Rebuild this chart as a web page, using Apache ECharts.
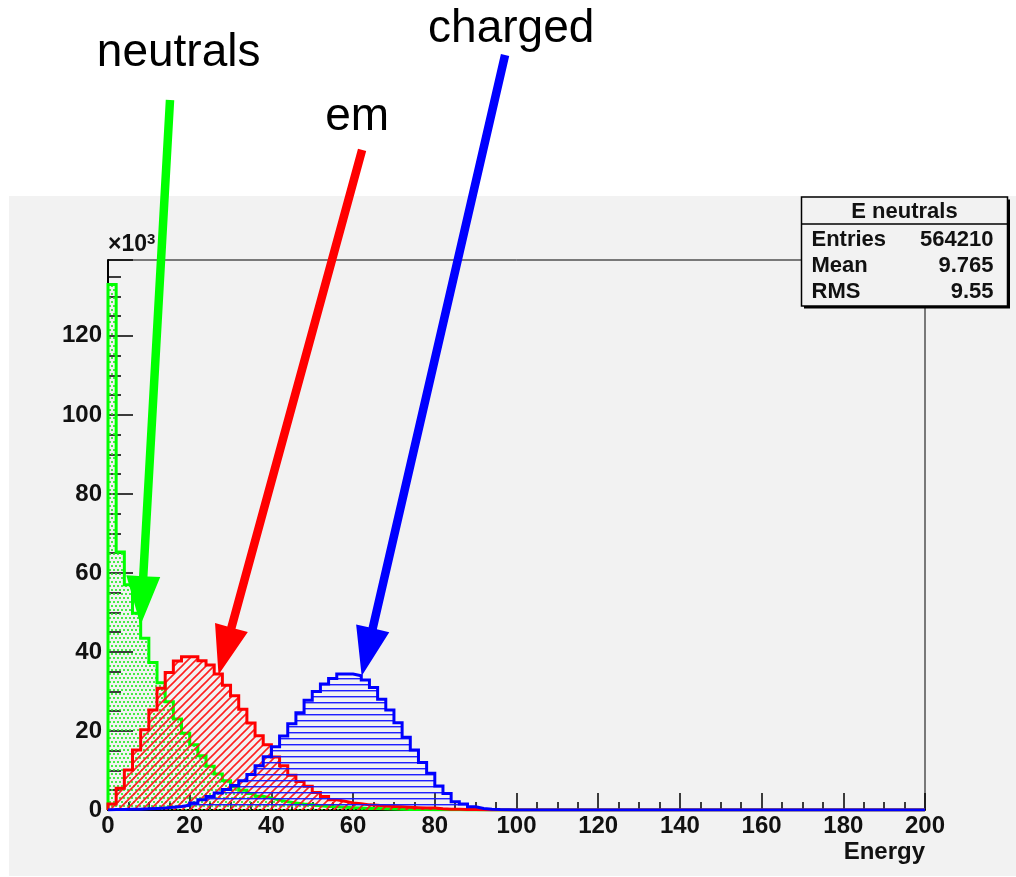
<!DOCTYPE html>
<html><head><meta charset="utf-8">
<script src="https://cdn.jsdelivr.net/npm/echarts@6/dist/echarts.min.js"></script>
<style>html,body{margin:0;padding:0;background:#fff}#c{width:1016px;height:877px}</style>
</head><body><div id="c"></div>
<script>
// ---------------- data (values in units of 10^3 entries per 2-GeV bin) ----------------
const binWidth = 2;
const xTickLabels = [0, 20, 40, 60, 80, 100, 120, 140, 160, 180, 200];
const yTickLabels = [0, 20, 40, 60, 80, 100, 120];
const neutrals = [133.0, 65.3, 57.0, 49.8, 43.5, 37.3, 32.2, 27.4, 23.0, 19.4,
  16.5, 13.7, 11.1, 9.1, 7.4, 5.9, 5.0, 4.2, 3.5, 3.0,
  2.5, 2.1, 1.8, 1.5, 1.3, 1.1, 0.9, 0.8, 0.7, 0.6,
  0.5, 0.4, 0.35, 0.3, 0.25, 0.2, 0.15, 0.12, 0.1, 0.08,
  0.06, 0.05, 0.04, 0.03, 0.02, 0.02, 0.01, 0.01, 0, 0];
const em = [1.5, 5.5, 10.1, 15.2, 20.3, 25.3, 30.8, 34.8, 37.7, 38.8,
  38.8, 37.8, 36.7, 34.4, 31.6, 28.9, 25.5, 22.0, 18.8, 16.5,
  13.4, 11.2, 8.8, 7.2, 6.0, 4.4, 3.4, 2.6, 2.2, 1.8,
  1.6, 1.3, 1.2, 1.0, 0.9, 0.8, 0.7, 0.6, 0.5, 0.5,
  0.3, 0.2, 0.2, 0.1, 0.1, 0.05, 0.03, 0.02, 0.01, 0];
const charged = [0.1, 0.1, 0.2, 0.2, 0.3, 0.4, 0.5, 0.7, 0.9, 1.2,
  1.8, 2.6, 3.4, 4.3, 5.2, 6.2, 7.4, 9.0, 11.2, 13.5,
  16.0, 18.7, 21.8, 24.6, 27.8, 30.0, 31.9, 33.3, 34.4, 34.4,
  34.0, 32.9, 31.0, 28.0, 25.3, 22.1, 18.4, 15.2, 12.0, 9.3,
  6.1, 4.2, 2.1, 1.5, 0.8, 0.4, 0.2, 0.1, 0.05, 0];
const seriesNames = ['neutrals', 'em', 'charged'];
const statsTitle = 'E neutrals';
const statsLabels = ['Entries', 'Mean', 'RMS'];
const statsValues = ['564210', '9.765', '9.55'];
const xAxisTitle = 'Energy';

// ---------------- layout / style ----------------
const xMin = 0, xMax = 200, xStep = 20;
const yMin = 0, yMax = 139.2, yStep = 20;
const FONT = '"Liberation Sans", Arial, Helvetica, sans-serif';
const colors = ['#00ff00', '#ff0000', '#0000ff'];
// annotation geometry in data coordinates (tail, tip, label centre)
const annotLayout = [
  { tail: [15.18, 179.7], tip: [7.96, 46.8], label: [17.3, 191.4] },
  { tail: [62.2, 167.1], tip: [27.05, 34.2], label: [61.0, 175.4] },
  { tail: [97.2, 191.1], tip: [62.1, 33.9], label: [98.7, 197.5] }
];

function makePattern(w, h, draw) {
  const c = document.createElement('canvas');
  c.width = w; c.height = h;
  draw(c.getContext('2d'));
  return { image: c, repeat: 'repeat' };
}
const greenDots = makePattern(4, 8, g => {
  g.fillStyle = 'rgba(40,235,40,0.85)';
  g.fillRect(1, 1, 2, 2);
  g.fillRect(3, 5, 1, 2);
  g.fillRect(0, 5, 1, 2);
});
const redHatch = makePattern(8, 8, g => {
  g.strokeStyle = 'rgba(255,20,20,0.95)';
  g.lineWidth = 1.6;
  g.beginPath();
  g.moveTo(-1, 9); g.lineTo(9, -1);
  g.moveTo(-5, 5); g.lineTo(5, -5);
  g.moveTo(3, 13); g.lineTo(13, 3);
  g.stroke();
});
const blueLines = makePattern(8, 6, g => {
  g.fillStyle = 'rgba(20,20,255,0.95)';
  g.fillRect(0, 0, 8, 1);
  g.fillStyle = 'rgba(20,20,255,0.4)';
  g.fillRect(0, 1, 8, 1);
});
const patterns = [greenDots, redHatch, blueLines];

function histPoints(vals) {
  const pts = [[xMin, 0]];
  vals.forEach((v, i) => pts.push([xMin + i * binWidth, v]));
  pts.push([xMin + vals.length * binWidth, 0]);
  pts.push([xMax, 0]);
  return pts;
}

const chart = echarts.init(document.getElementById('c'), null, { renderer: 'canvas' });
const allData = [neutrals, em, charged];

const option = {
  backgroundColor: '#ffffff',
  animation: false,
  textStyle: { fontFamily: FONT },
  grid: { left: 108, right: 91, top: 260, bottom: 67, show: true, borderColor: '#000', borderWidth: 1,
          backgroundColor: 'transparent', containLabel: false, outerBoundsMode: 'none' },
  xAxis: {
    type: 'value', min: xMin, max: xMax, interval: xStep,
    name: xAxisTitle, nameLocation: 'end', nameGap: 0,
    nameTextStyle: { fontFamily: FONT, fontWeight: 'bold', fontSize: 24, color: '#111',
                     align: 'right', verticalAlign: 'top', padding: [30, 0, 0, 0] },
    axisLine: { show: true, onZero: false, lineStyle: { color: '#000', width: 2 } },
    axisTick: { show: true, inside: true, length: 17, lineStyle: { color: '#000', width: 1.5 } },
    minorTick: { show: true, splitNumber: 4, length: 8, lineStyle: { color: '#000', width: 1.5 } },
    splitLine: { show: false },
    axisLabel: { show: true, margin: 4, fontFamily: FONT, fontWeight: 'bold', fontSize: 24, color: '#111',
                 formatter: v => xTickLabels.includes(v) ? String(v) : '' , hideOverlap: false}
  },
  yAxis: {
    type: 'value', min: yMin, max: yMax, interval: yStep,
    name: '×10{s|3}', nameLocation: 'end', nameGap: 2,
    nameTextStyle: { fontFamily: FONT, fontWeight: 'bold', fontSize: 23, color: '#111', align: 'left', verticalAlign: 'bottom',
                     rich: { s: { fontFamily: FONT, fontWeight: 'bold', fontSize: 15, color: '#111', padding: [0, 0, 11, 0] } } },
    axisLine: { show: true, onZero: false, lineStyle: { color: '#000', width: 2 } },
    axisTick: { show: true, inside: true, length: 25, lineStyle: { color: '#000', width: 1.5 } },
    minorTick: { show: true, splitNumber: 4, length: 13, lineStyle: { color: '#000', width: 1.5 } },
    splitLine: { show: false },
    axisLabel: { show: true, margin: 6, fontFamily: FONT, fontWeight: 'bold', fontSize: 24, color: '#111',
                 showMaxLabel: false, hideOverlap: false,
                 formatter: v => yTickLabels.includes(v) ? String(v) : '' }
  },
  series: allData.map((vals, i) => ({
    type: 'line', name: seriesNames[i], step: 'end', symbol: 'none', silent: true,
    z: 2 + i,
    data: histPoints(vals),
    lineStyle: { color: colors[i], width: 3, join: 'miter' },
    areaStyle: { color: patterns[i], opacity: 1 }
  }))
};
chart.setOption(option);

// ---------------- annotations & stats box ----------------
const toPx = p => chart.convertToPixel({ gridIndex: 0 }, p);
function arrowPoly(a, b, sw, hl, hw) {
  const dx = b[0] - a[0], dy = b[1] - a[1], L = Math.hypot(dx, dy);
  const ux = dx / L, uy = dy / L, nx = -uy, ny = ux;
  const bx = b[0] - ux * hl, by = b[1] - uy * hl;
  return [
    [a[0] + nx * sw / 2, a[1] + ny * sw / 2],
    [bx + nx * sw / 2, by + ny * sw / 2],
    [bx + nx * hw / 2, by + ny * hw / 2],
    [b[0], b[1]],
    [bx - nx * hw / 2, by - ny * hw / 2],
    [bx - nx * sw / 2, by - ny * sw / 2],
    [a[0] - nx * sw / 2, a[1] - ny * sw / 2]
  ];
}
const elements = [];
// gray ROOT canvas panel
elements.push({ type: 'rect', z: -10, silent: true, shape: { x: 9, y: 196, width: 1007, height: 680 },
  style: { fill: '#f2f2f2' } });
annotLayout.forEach((a, i) => {
  const tail = toPx(a.tail), tip = toPx(a.tip), lab = toPx(a.label);
  elements.push({ type: 'polygon', z: 100, silent: true,
    shape: { points: arrowPoly(tail, tip, 8.5, 49, 34) }, style: { fill: colors[i] } });
  elements.push({ type: 'text', z: 100, silent: true, x: lab[0], y: lab[1],
    style: { text: seriesNames[i], fill: '#000', font: '46px ' + FONT, align: 'center', verticalAlign: 'middle' } });
});
// stats box
const bx = 801.5, by = 197, bw = 206, bh = 109;
const SFONT = 'bold 22px ' + FONT;
elements.push({ type: 'rect', z: 101, silent: true, shape: { x: bx + 2.5, y: by + 2.5, width: bw, height: bh },
  style: { fill: '#000' } });
elements.push({ type: 'rect', z: 102, silent: true, shape: { x: bx, y: by, width: bw, height: bh },
  style: { fill: '#f2f2f2', stroke: '#000', lineWidth: 1.5 } });
elements.push({ type: 'line', z: 103, silent: true, shape: { x1: bx, y1: by + 27, x2: bx + bw, y2: by + 27 },
  style: { stroke: '#000', lineWidth: 1.5 } });
elements.push({ type: 'text', z: 103, silent: true, x: bx + bw / 2, y: by + 14.5,
  style: { text: statsTitle, fill: '#111', font: SFONT, align: 'center', verticalAlign: 'middle' } });
statsLabels.forEach((lbl, i) => {
  const yy = by + 43 + i * 26;
  elements.push({ type: 'text', z: 103, silent: true, x: bx + 10, y: yy,
    style: { text: lbl, fill: '#111', font: SFONT, align: 'left', verticalAlign: 'middle' } });
  elements.push({ type: 'text', z: 103, silent: true, x: bx + bw - 14, y: yy,
    style: { text: statsValues[i], fill: '#111', font: SFONT, align: 'right', verticalAlign: 'middle' } });
});
chart.setOption({ graphic: { elements } });
</script></body></html>
